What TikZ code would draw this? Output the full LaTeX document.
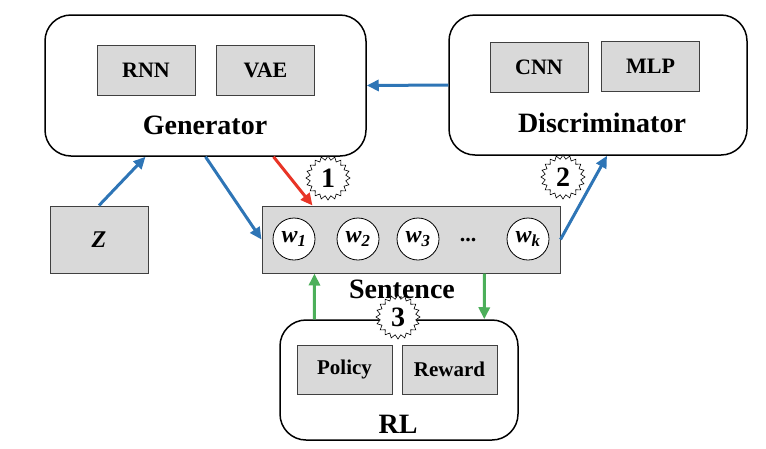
\documentclass[tikz,border=0pt]{standalone}
\usepackage{fontspec}
\setmainfont{Liberation Serif}
\usetikzlibrary{arrows.meta}
\usetikzlibrary{shapes.symbols}
\definecolor{arrowblue}{RGB}{46,117,182}
\definecolor{arrowred}{RGB}{232,52,38}
\definecolor{arrowgreen}{RGB}{76,175,90}
\definecolor{boxgray}{RGB}{217,217,217}
\newcommand{\fs}[1]{\fontsize{#1}{#1}\selectfont}
\begin{document}
\begin{tikzpicture}[x=1pt,y=-1pt,
  outer/.style={draw, line width=1.5pt, rounded corners=26pt, fill=white},
  part/.style={draw=black!75, line width=1pt, fill=boxgray, minimum width=98pt, minimum height=50pt, font=\fs{22}\bfseries},
  title/.style={font=\fs{28}\bfseries},
  word/.style={draw, circle, fill=white, line width=0.8pt, minimum size=42pt, inner sep=0pt, font=\fs{24}\bfseries\itshape},
  burst/.style={draw, fill=white, line width=0.6pt, starburst, starburst points=20, starburst point height=4pt, random starburst=0, minimum width=44pt, minimum height=44pt, inner sep=0pt, font=\fs{28}\bfseries},
  link/.style={line width=3pt, -{Triangle[length=12pt,width=11pt]}}]
\useasboundingbox (0,0) rectangle (766,448);
\node[outer, minimum width=321pt, minimum height=141pt] (gen) at (205.5,85.5) {};
\node[part] (rnn) at (146,70.5) {RNN};
\node[part] (vae) at (265.5,70.5) {VAE};
\node[title] (genlabel) at (205,125) {Generator};
\node[outer, minimum width=298pt, minimum height=140pt] (disc) at (598,85) {};
\node[part] (cnn) at (539,67) {CNN};
\node[part] (mlp) at (650.5,66.5) {MLP};
\node[title] (disclabel) at (602,123) {Discriminator};
\node[part, minimum width=98pt, minimum height=67pt, font=\fs{24}\bfseries\itshape] (z) at (99,239.5) {Z};
\node[draw=black!75, line width=1pt, fill=boxgray, minimum width=298pt, minimum height=67pt] (sent) at (411,239.5) {};
\foreach \x/\i in {294/1,358/2,418/3}
\node[word] (w\i) at (\x,239) {w\textsubscript{\i}};
\node[font=\fs{22}\bfseries] (dots) at (468,240) {...};
\node[word] (wk) at (528,239) {w\textsubscript{k}};
\node[title] (sentlabel) at (402,289) {Sentence};
\node[outer, minimum width=238pt, minimum height=120pt] (rl) at (399,380) {};
\node[part, minimum width=95pt, minimum height=49pt, font=\fs{21}\bfseries] (policy) at (344.5,369.5) {Policy};
\node[part, minimum width=95pt, minimum height=49pt, font=\fs{21}\bfseries] (reward) at (449.5,369.5) {Reward};
\node[title] (rllabel) at (398,424) {RL};
\draw[link, arrowblue] (z.north) -- ([xshift=-60pt]gen.south);
\draw[link, arrowblue] (gen.south) -- (sent.west);
\draw[link, arrowred] ([xshift=68pt]gen.south) -- ([xshift=51pt]sent.north west);
\draw[link, arrowblue] (disc.west) -- (gen.east);
\draw[link, arrowblue] (sent.east) -- ([xshift=9pt]disc.south);
\draw[link, arrowgreen] ([xshift=35pt]rl.north west) -- ([xshift=53pt]sent.south west);
\draw[link, arrowgreen] ([xshift=223pt]sent.south west) -- ([xshift=205pt]rl.north west);
\node[burst] (s1) at (328,178) {1};
\node[burst] (s2) at (563,177) {2};
\node[burst] (s3) at (398,317) {3};
\end{tikzpicture}
\end{document}
